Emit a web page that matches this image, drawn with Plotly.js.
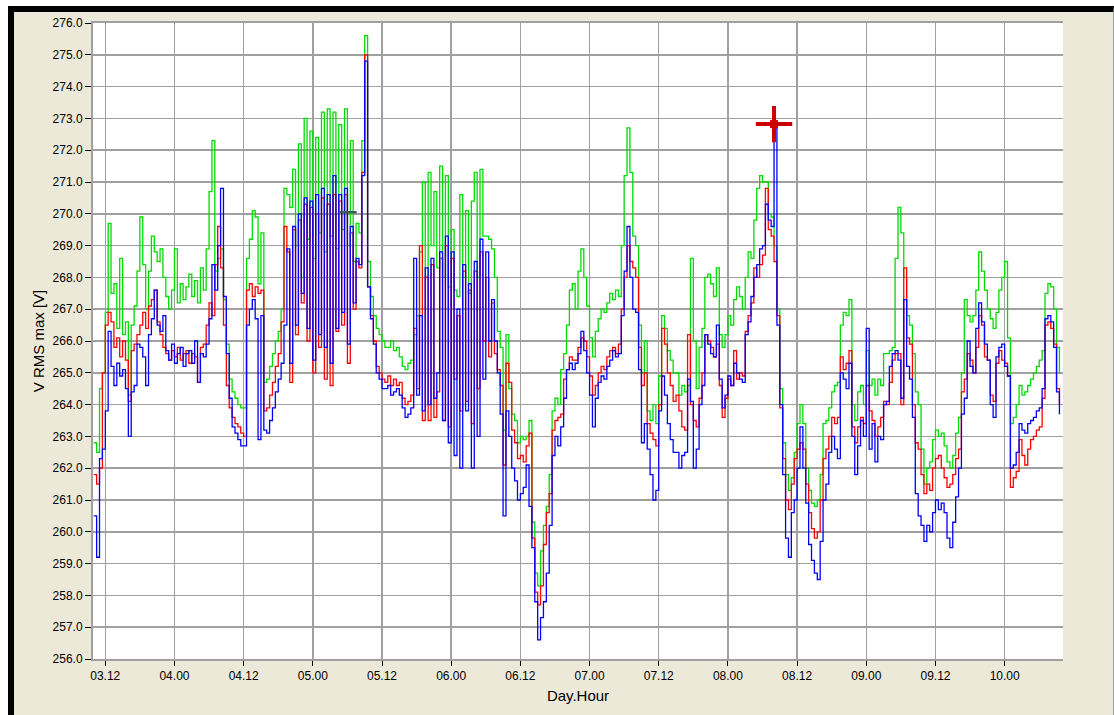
<!DOCTYPE html>
<html>
<head>
<meta charset="utf-8">
<script src="https://cdn.plot.ly/plotly-3.0.1.min.js"></script>
<style>
html,body{margin:0;padding:0;background:#fff;width:1114px;height:715px;overflow:hidden}
#frame{position:absolute;left:8px;top:6px;width:1106px;height:709px;box-sizing:border-box;background:#ece9d8;border-top:6px solid #000;border-left:6px solid #000;border-right:1px solid #a0a0a0}
#chart{position:absolute;left:0;top:0;width:1114px;height:715px}
</style>
</head>
<body>
<div id="frame"></div>
<div id="chart"></div>
<script>
// time axis: hours counted from day 03.00, one sample every half hour starting at 03.10
const startHour = 10;
const stepHours = 0.5;

const tickHours = [12, 24, 36, 48, 60, 72, 84, 96, 108, 120, 132, 144, 156, 168];
const tickLabels = ['03.12', '04.00', '04.12', '05.00', '05.12', '06.00', '06.12',
                    '07.00', '07.12', '08.00', '08.12', '09.00', '09.12', '10.00'];

// V RMS max [V] per phase
const phaseGreen = [
  262.8,262.5,264.5,265.0,266.9,269.7,267.5,267.8,266.4,268.6,266.2,266.6,264.3,266.5,267.1,268.2,269.9,268.4,267.0,268.2,
  269.3,268.8,268.5,268.9,268.0,267.4,267.0,267.6,268.9,267.2,267.8,267.3,267.7,268.1,267.4,267.9,267.2,268.3,267.6,268.9,
  270.7,272.3,268.2,268.6,268.9,267.3,265.9,264.8,264.4,264.2,264.0,263.9,263.9,268.6,269.2,270.1,269.9,267.8,269.4,264.7,
  264.8,265.2,265.6,266.0,266.3,267.0,270.8,270.6,270.2,271.4,269.0,272.2,268.0,273.0,269.2,272.6,268.6,272.4,269.4,273.2,
  268.8,273.3,269.3,273.2,268.9,272.8,269.5,273.3,269.0,272.3,268.5,269.7,269.4,272.3,275.6,268.5,267.4,266.8,266.4,266.2,
  266.0,265.8,265.8,266.0,265.7,265.8,265.5,265.2,265.1,265.3,265.4,266.2,266.8,268.8,271.0,268.0,271.3,269.0,270.7,268.3,
  271.5,268.0,271.2,267.7,269.5,267.6,267.4,270.6,268.0,270.1,267.5,270.4,271.3,268.0,271.4,269.3,269.3,269.2,268.9,268.0,
  266.3,265.8,263.2,266.2,264.5,263.7,263.5,262.8,263.0,262.9,263.0,263.5,260.3,258.7,258.3,259.4,260.2,260.8,261.8,263.8,
  264.2,264.0,265.1,265.6,266.5,267.6,267.8,267.0,268.2,268.9,268.0,267.1,266.1,265.5,266.3,266.7,267.0,266.9,267.2,267.5,
  267.3,267.6,267.4,269.0,271.2,272.7,271.3,269.3,269.0,266.5,265.0,266.0,263.8,263.5,264.0,263.4,264.9,266.8,266.4,265.7,
  265.4,265.0,265.0,264.3,264.6,264.4,264.6,268.6,266.0,264.5,265.8,266.4,268.0,268.1,267.8,267.4,268.3,266.2,265.8,266.2,
  266.8,266.5,267.3,267.7,267.4,267.0,268.0,268.8,268.6,269.8,270.8,271.2,271.0,271.0,270.0,269.9,269.0,267.0,264.5,262.8,
  261.8,261.3,261.7,262.5,263.4,264.0,263.4,262.0,261.3,260.9,260.8,261.0,261.8,263.4,263.5,263.9,264.4,264.6,264.7,266.5,
  266.9,266.8,267.3,264.0,263.5,264.4,264.6,264.0,265.7,264.6,264.8,264.3,264.8,264.6,265.6,265.6,265.7,265.8,268.6,270.2,
  269.4,268.0,266.8,266.5,265.6,264.4,264.0,262.6,261.5,262.0,262.2,262.9,263.2,263.0,263.1,262.7,262.2,262.0,262.4,263.1,
  263.6,265.0,267.3,266.8,266.6,266.8,267.6,268.8,268.2,267.6,267.0,266.7,266.4,266.9,267.6,268.0,268.5,266.1,263.4,263.6,
  264.0,264.6,264.3,264.4,264.6,264.8,265.0,265.2,265.4,265.7,267.5,267.8,267.7,267.0,265.8,265.0
];
const phaseRed = [
  261.8,261.5,262.0,265.0,266.5,266.9,266.6,265.8,266.1,265.5,266.0,265.4,264.1,265.7,265.9,266.2,266.5,266.9,266.4,267.1,
  267.3,267.6,266.6,266.2,265.8,265.6,265.4,265.7,265.5,265.8,265.4,265.6,265.7,265.3,265.6,265.5,264.7,265.8,265.9,266.5,
  267.2,266.8,268.4,269.6,268.3,266.5,264.6,263.9,263.6,263.4,263.3,263.1,263.0,267.6,267.8,267.4,267.7,267.5,267.6,263.8,
  263.9,264.3,264.7,265.2,265.6,266.6,269.6,268.8,264.7,269.5,266.2,269.8,267.2,270.3,266.0,270.2,265.0,270.0,265.8,270.5,
  264.8,270.3,264.6,270.6,266.3,270.4,266.5,270.6,265.3,269.4,267.0,268.5,268.3,271.3,275.0,267.7,266.8,266.0,265.2,265.0,
  264.8,264.7,264.9,264.6,264.8,264.6,264.7,264.2,264.0,264.1,264.3,266.4,264.5,269.0,263.5,268.0,263.5,268.4,263.6,264.4,
  268.6,263.5,269.0,263.3,268.6,264.8,266.8,263.8,268.2,264.1,267.6,263.4,268.2,264.5,268.8,266.0,268.0,265.5,267.2,265.6,
  265.1,264.6,262.1,265.3,264.7,263.2,262.8,262.3,262.4,262.2,262.7,263.1,259.8,258.1,257.7,258.3,259.6,260.6,261.2,263.2,
  263.5,263.6,263.7,264.8,265.1,265.5,265.4,265.4,265.8,266.1,266.0,265.5,264.9,264.3,264.6,265.0,265.2,265.1,265.5,265.7,
  265.8,265.6,265.9,267.0,268.0,269.0,268.5,268.3,268.0,265.8,264.6,265.0,263.4,263.1,262.9,262.7,264.0,266.4,265.9,265.0,
  264.6,264.1,264.3,263.8,263.3,263.2,266.2,264.0,263.5,263.3,264.2,265.0,266.2,266.0,265.8,265.5,265.9,264.6,263.6,264.2,
  264.8,264.6,265.7,264.8,265.0,264.9,266.3,266.8,267.2,268.3,268.0,268.4,268.7,270.8,269.5,269.3,268.5,266.8,263.9,262.3,
  261.0,260.7,261.5,262.3,262.6,262.8,262.6,261.5,260.6,260.1,259.8,260.0,261.0,262.3,262.6,263.0,263.6,263.4,263.6,265.5,
  265.1,265.3,265.7,263.3,262.8,263.3,263.6,263.4,264.6,263.8,263.5,263.0,263.3,263.6,264.1,264.0,264.7,265.4,265.6,265.6,
  264.0,268.3,266.1,265.9,264.0,262.8,262.6,261.8,261.2,261.5,261.3,262.0,262.3,262.4,262.0,261.7,261.4,261.5,261.8,262.3,
  262.6,264.4,264.8,265.6,265.4,265.0,265.8,266.8,266.5,265.5,265.4,264.3,264.1,265.3,265.7,265.4,265.3,264.9,261.4,261.7,
  261.9,262.9,262.4,262.1,262.6,262.9,263.0,263.2,263.3,264.2,266.5,266.6,266.4,265.9,264.5,264.0
];
const phaseBlue = [
  260.5,259.2,262.3,262.6,263.8,266.3,265.2,264.6,265.3,264.9,265.1,264.5,263.0,264.4,264.6,265.9,265.8,265.5,264.6,266.2,
  266.7,267.6,266.5,266.3,266.8,265.7,265.4,265.9,265.3,265.6,265.8,265.2,265.6,265.7,265.3,266.0,264.7,265.6,265.5,265.9,
  266.7,268.4,267.6,269.0,270.8,267.4,265.6,264.2,263.3,263.1,262.9,262.7,262.7,266.5,267.0,267.3,266.7,262.9,266.8,263.2,
  263.1,263.5,263.9,264.4,264.8,265.3,266.5,268.9,265.3,269.6,266.5,270.0,267.5,270.5,266.4,270.4,265.4,270.6,266.2,270.8,
  265.8,270.6,265.3,271.2,266.4,270.6,266.9,270.8,265.9,269.6,267.2,268.6,268.4,271.2,274.8,267.7,266.7,265.9,265.0,264.8,
  264.5,264.5,264.6,264.3,264.4,264.5,264.3,263.9,263.6,263.7,263.9,268.6,264.3,266.8,263.8,268.3,264.0,268.6,264.2,265.0,
  268.8,263.5,269.3,262.8,268.8,262.4,267.0,262.0,268.4,263.8,267.8,262.0,268.5,263.0,269.2,264.8,268.8,266.0,267.3,266.0,
  265.0,263.7,260.5,263.8,263.0,262.0,261.6,261.0,261.2,261.4,262.1,260.8,259.5,257.8,256.6,257.3,257.8,258.7,260.2,262.4,
  263.0,262.7,263.3,264.2,265.1,265.3,265.1,265.3,265.6,266.3,265.7,265.0,264.3,263.3,264.2,264.7,264.9,264.8,265.2,265.4,
  265.7,265.5,265.6,266.8,268.2,269.6,268.0,267.0,266.9,265.1,262.8,263.4,262.6,261.8,261.0,261.3,263.8,264.9,264.3,263.4,
  262.9,262.5,262.5,262.0,262.4,262.5,264.8,264.1,262.0,262.6,264.0,264.6,266.2,265.9,265.6,265.5,266.5,264.8,263.9,264.3,
  264.9,264.6,265.3,265.0,264.8,264.7,266.2,266.6,267.4,268.0,268.4,268.9,269.0,270.3,269.8,269.6,272.7,266.5,264.0,261.8,
  259.8,259.2,260.6,261.0,262.0,263.3,262.0,260.9,259.6,259.1,258.7,258.5,259.7,261.0,261.5,262.5,263.0,262.6,262.3,265.0,
  264.8,264.5,265.3,263.0,261.8,262.7,263.5,263.0,266.4,262.6,263.4,262.2,263.0,262.9,264.0,264.1,265.2,265.6,265.7,265.4,
  264.2,267.3,265.2,264.8,263.6,261.2,260.5,260.2,259.7,260.2,260.0,260.6,261.0,260.7,260.9,260.6,259.8,259.5,260.3,261.1,
  262.0,263.7,264.2,266.0,265.2,265.0,266.4,267.2,266.6,265.9,265.4,264.0,263.6,265.5,265.8,265.9,265.2,264.9,262.0,262.1,
  262.5,263.4,263.2,263.1,263.4,263.5,263.6,263.8,263.9,264.5,266.7,266.8,266.6,265.8,264.4,263.7
];

// cursor marks drawn by the recorder software
const cursorX = [52.7, 55.6];
const cursorY = [270.05, 270.05];
const crossX = [128];
const crossY = [272.82];

const time = phaseGreen.map((_, i) => startHour + i * stepHours);

const FONT = 'Liberation Sans, Arial, sans-serif';

const traces = [
  {x: time, y: phaseGreen, type: 'scatter', mode: 'lines', line: {color: '#00dc00', width: 1.3, shape: 'hv'}, hoverinfo: 'skip'},
  {x: time, y: phaseRed, type: 'scatter', mode: 'lines', line: {color: '#ff0000', width: 1.3, shape: 'hv'}, hoverinfo: 'skip'},
  {x: time, y: phaseBlue, type: 'scatter', mode: 'lines', line: {color: '#0000ff', width: 1.3, shape: 'hv'}, hoverinfo: 'skip'},
  {x: cursorX, y: cursorY, type: 'scatter', mode: 'lines', line: {color: '#3c5c5c', width: 2.5}, hoverinfo: 'skip'},
  {x: crossX, y: crossY, type: 'scatter', mode: 'markers',
   marker: {symbol: 'cross-thin', size: 26, line: {color: '#cc0000', width: 4}}, hoverinfo: 'skip'},
  {x: crossX, y: crossY, type: 'scatter', mode: 'markers',
   marker: {symbol: 'square', size: 8, color: '#cc0000', line: {width: 0}}, hoverinfo: 'skip'}
];

const layout = {
  width: 1114, height: 715,
  paper_bgcolor: 'rgba(0,0,0,0)',
  plot_bgcolor: '#ffffff',
  showlegend: false,
  margin: {l: 93, r: 51, t: 23, b: 56, pad: 0},
  font: {family: FONT, size: 12, color: '#000'},
  xaxis: {
    range: [9.87, 178.12], tickmode: 'array', tickvals: tickHours, ticktext: tickLabels,
    ticks: 'outside', ticklen: 5, tickwidth: 1, tickcolor: '#000',
    showgrid: true, gridcolor: '#a0a0a0', gridwidth: 1.5,
    showline: true, linecolor: '#a0a0a0', linewidth: 2, mirror: true,
    zeroline: false, automargin: false,
    tickfont: {family: FONT, size: 12, color: '#000'},
    title: {text: 'Day.Hour', font: {family: FONT, size: 15, color: '#000'}, standoff: 8}
  },
  yaxis: {
    range: [256, 276], tick0: 256, dtick: 1, tickformat: '.1f',
    ticks: 'outside', ticklen: 6, tickwidth: 1, tickcolor: '#000',
    showgrid: true, gridcolor: '#a0a0a0', gridwidth: 1.5,
    showline: true, linecolor: '#a0a0a0', linewidth: 2, mirror: false,
    zeroline: false, automargin: false,
    tickfont: {family: FONT, size: 12, color: '#000'},
    title: {text: 'V RMS max [V]', font: {family: FONT, size: 15, color: '#000'}, standoff: 4}
  }
};

Plotly.newPlot('chart', traces, layout, {displayModeBar: false, staticPlot: true});
</script>
</body>
</html>
